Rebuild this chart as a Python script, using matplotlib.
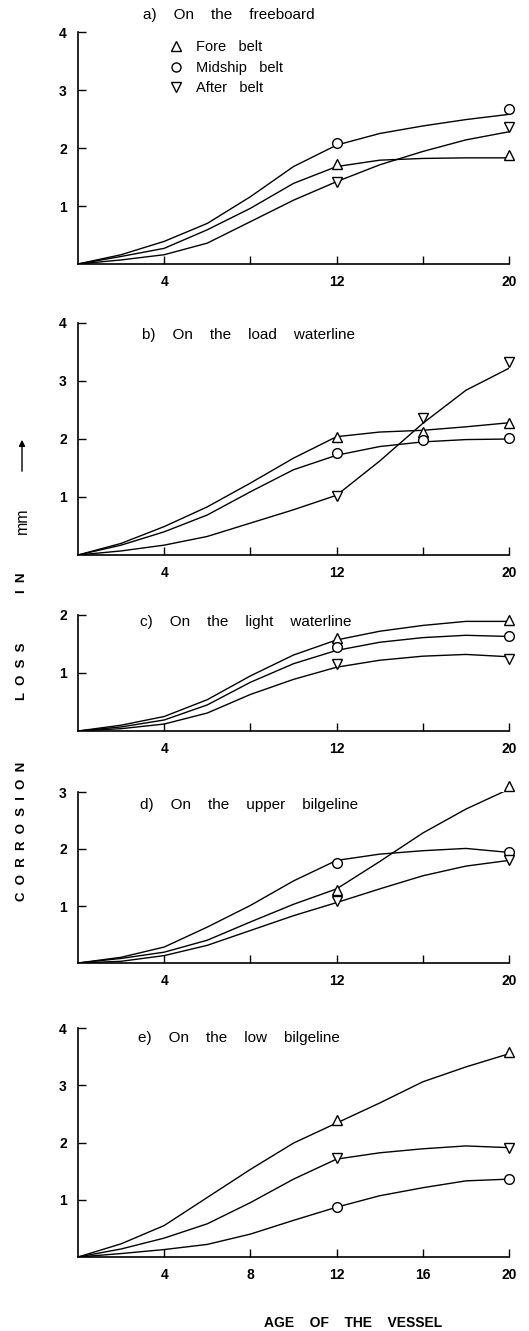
import numpy as np
import matplotlib.pyplot as plt
from matplotlib.lines import Line2D

plt.rcParams['font.family'] = ['Liberation Sans', 'DejaVu Sans']

W, H = 529, 1331

years = [0, 2, 4, 6, 8, 10, 12, 14, 16, 18, 20]
mark_years = [12, 20]
mark_years_b = [12, 16, 20]

# a) freeboard
a_fore = [0, 0.13, 0.27, 0.59, 0.96, 1.39, 1.68, 1.79, 1.82, 1.83, 1.83]
a_mid = [0, 0.16, 0.39, 0.70, 1.16, 1.68, 2.05, 2.25, 2.38, 2.49, 2.58]
a_aft = [0, 0.07, 0.16, 0.36, 0.73, 1.10, 1.42, 1.71, 1.94, 2.14, 2.28]
a_fore_m = [1.72, 1.88]
a_mid_m = [2.09, 2.67]
a_aft_m = [1.41, 2.36]

# b) load waterline
b_fore = [0, 0.20, 0.49, 0.83, 1.24, 1.67, 2.04, 2.12, 2.15, 2.21, 2.28]
b_mid = [0, 0.17, 0.40, 0.69, 1.09, 1.47, 1.72, 1.87, 1.95, 1.99, 2.00]
b_aft = [0, 0.07, 0.17, 0.32, 0.55, 0.78, 1.03, 1.62, 2.27, 2.84, 3.22]
b_fore_m = [2.03, 2.12, 2.28]
b_mid_m = [1.76, 1.98, 2.01]
b_aft_m = [1.02, 2.36, 3.32]

# c) light waterline
c_fore = [0, 0.10, 0.25, 0.54, 0.95, 1.31, 1.57, 1.72, 1.82, 1.89, 1.89]
c_mid = [0, 0.07, 0.19, 0.45, 0.84, 1.16, 1.39, 1.53, 1.61, 1.65, 1.63]
c_aft = [0, 0.04, 0.12, 0.31, 0.63, 0.89, 1.10, 1.22, 1.29, 1.32, 1.28]
c_fore_m = [1.61, 1.92]
c_mid_m = [1.45, 1.63]
c_aft_m = [1.16, 1.24]

# d) upper bilgeline
d_fore = [0, 0.08, 0.19, 0.40, 0.72, 1.03, 1.30, 1.78, 2.28, 2.70, 3.05]
d_mid = [0, 0.10, 0.28, 0.63, 1.01, 1.44, 1.80, 1.91, 1.97, 2.01, 1.94]
d_aft = [0, 0.03, 0.13, 0.31, 0.57, 0.83, 1.06, 1.30, 1.53, 1.70, 1.80]
d_fore_m = [1.28, 3.10]
d_mid_m = [1.76, 1.94]
d_aft_m = [1.08, 1.80]

# e) low bilgeline
e_fore = [0, 0.23, 0.55, 1.04, 1.53, 1.99, 2.34, 2.69, 3.06, 3.32, 3.55]
e_mid = [0, 0.06, 0.13, 0.22, 0.40, 0.64, 0.87, 1.07, 1.21, 1.33, 1.36]
e_aft = [0, 0.14, 0.33, 0.58, 0.95, 1.36, 1.71, 1.82, 1.89, 1.94, 1.91]
e_fore_m = [2.39, 3.58]
e_mid_m = [0.88, 1.36]
e_aft_m = [1.73, 1.90]

panels = [
    # title, ymax, (top px, bottom px), curves, marker years, markers, xlabels
    ("a)    On    the    freeboard", 4, (32, 264), (a_fore, a_mid, a_aft), mark_years,
     (a_fore_m, a_mid_m, a_aft_m), ["4", "", "12", "", "20"]),
    ("b)    On    the    load    waterline", 4, (323, 555), (b_fore, b_mid, b_aft), mark_years_b,
     (b_fore_m, b_mid_m, b_aft_m), ["4", "", "12", "", "20"]),
    ("c)    On    the    light    waterline", 2, (615, 731), (c_fore, c_mid, c_aft), mark_years,
     (c_fore_m, c_mid_m, c_aft_m), ["4", "", "12", "", "20"]),
    ("d)    On    the    upper    bilgeline", 3, (792, 963), (d_fore, d_mid, d_aft), mark_years,
     (d_fore_m, d_mid_m, d_aft_m), ["4", "", "12", "", "20"]),
    ("e)    On    the    low    bilgeline", 4, (1028, 1257), (e_fore, e_mid, e_aft), mark_years,
     (e_fore_m, e_mid_m, e_aft_m), ["4", "8", "12", "16", "20"]),
]
title_pos = [(143, 15), (142, 335), (140, 622), (140, 805), (138, 1038)]

markers = ['^', 'o', 'v']
labels = ["Fore   belt", "Midship   belt", "After   belt"]

fig = plt.figure(figsize=(W / 100, H / 100), dpi=100)
left, right = 78, 509

for i, (title, ymax, (top, bot), curves, myears, mvals, xlab) in enumerate(panels):
    ax = fig.add_axes([left / W, 1 - bot / H, (right - left) / W, (bot - top) / H])
    for curve, mk, mv in zip(curves, markers, mvals):
        ax.plot(years, curve, color='black', lw=1.0)
        ax.plot(myears, mv, ls='none', marker=mk, ms=7, mfc='white', mec='black',
                mew=1.0, clip_on=False, zorder=3)
    ax.set_xlim(0, 20)
    ax.set_ylim(0, ymax)
    ax.spines['top'].set_visible(False)
    ax.spines['right'].set_visible(False)
    ax.spines['left'].set_linewidth(1.2)
    ax.spines['bottom'].set_linewidth(1.2)
    ax.set_xticks([4, 8, 12, 16, 20])
    ax.set_xticklabels(xlab)
    ax.set_yticks(np.arange(1, ymax + 1))
    ax.set_yticklabels([str(v) for v in range(1, ymax + 1)])
    ax.tick_params(direction='in', length=6, width=1.0, labelsize=10, pad=8)
    for lab in ax.get_xticklabels() + ax.get_yticklabels():
        lab.set_fontweight('bold')
    tx, ty = title_pos[i]
    fig.text(tx / W, 1 - ty / H, title, ha='left', va='center', fontsize=11)
    if i == 0:
        handles = [Line2D([], [], ls='none', marker=m, ms=6.5, mfc='white', mec='black', mew=1.0)
                   for m in markers]
        fig.legend(handles, labels, loc='upper left', bbox_to_anchor=(160 / W, 1 - 33 / H),
                   frameon=False, fontsize=10.5, handletextpad=0.8, labelspacing=0.45,
                   borderpad=0, handlelength=1.2)

# vertical y label pieces
ylab_x = 22 / W
fig.text(ylab_x, 1 - 831 / H, "C  O  R  R  O  S  I  O  N", rotation=90, ha='center',
         va='center', fontsize=9.5, fontweight='bold')
fig.text(ylab_x, 1 - 671 / H, "L  O  S  S", rotation=90, ha='center', va='center',
         fontsize=9.5, fontweight='bold')
fig.text(ylab_x, 1 - 583 / H, "I  N", rotation=90, ha='center', va='center',
         fontsize=9.5, fontweight='bold')
fig.text(ylab_x, 1 - 521 / H, "mm", rotation=90, ha='center', va='center',
         fontsize=11.5)
fig.add_artist(plt.Annotation("", xy=(ylab_x, 1 - 437 / H), xytext=(ylab_x, 1 - 474 / H),
                              xycoords='figure fraction', textcoords='figure fraction',
                              arrowprops=dict(arrowstyle='-|>', lw=1.0, color='black',
                                              mutation_scale=9)))

fig.text(353 / W, 1 - 1323 / H, "AGE    OF    THE    VESSEL", ha='center', va='center',
         fontsize=10, fontweight='bold')

fig.savefig("out.png", dpi=100, facecolor='white')
